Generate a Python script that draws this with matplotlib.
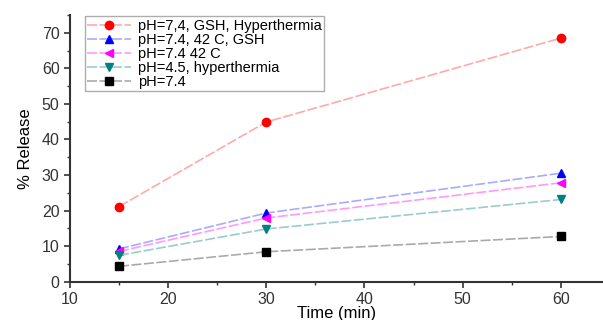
import matplotlib.pyplot as plt
import matplotlib

matplotlib.rcParams['font.family'] = ['Liberation Sans', 'DejaVu Sans']

# data
time_min = [15, 30, 60]
labels = ["pH=7,4, GSH, Hyperthermia", "pH=7.4, 42 C, GSH", "pH=7.4 42 C",
          "pH=4.5, hyperthermia", "pH=7.4"]
gsh_hyper = [21.1, 44.9, 68.5]
gsh_42c = [9.2, 19.3, 30.5]
only_42c = [8.5, 17.9, 27.8]
ph45_hyper = [7.4, 14.8, 23.1]
ph74 = [4.3, 8.4, 12.7]

series = [gsh_hyper, gsh_42c, only_42c, ph45_hyper, ph74]
marker_colors = ['#ff0000', '#0000ff', '#ff00ff', '#008080', '#000000']
line_colors = ['#ffaaaa', '#aaaaff', '#ff99ff', '#99cccc', '#aaaaaa']
markers = ['o', '^', '<', 'v', 's']

fig = plt.figure(figsize=(6.03, 3.2), dpi=100)
ax = fig.add_axes([0.116, 0.12, 0.884, 0.833])

for vals, lab, mc, lc, mk in zip(series, labels, marker_colors, line_colors, markers):
    ax.plot(time_min, vals, color=lc, linewidth=1.2, linestyle=(0, (6, 1.5)),
            marker=mk, markersize=6, markerfacecolor=mc, markeredgecolor=mc, label=lab)

ax.set_xlim(10, 64.3)
ax.set_ylim(0, 75)
ax.set_xticks([10, 20, 30, 40, 50, 60])
ax.set_yticks(range(0, 80, 10))
ax.set_xticks([15, 25, 35, 45, 55], minor=True)
ax.set_yticks(range(5, 80, 10), minor=True)
for s in ['top', 'right']:
    ax.spines[s].set_visible(False)
for s in ['left', 'bottom']:
    ax.spines[s].set_linewidth(1.5)
    ax.spines[s].set_color('#333333')
ax.tick_params(axis='both', which='major', direction='out', length=4, width=1.2,
               labelsize=11.5, colors='#333333')
ax.tick_params(axis='both', which='minor', direction='out', length=2.5, width=1.0,
               colors='#333333')

ax.set_xlabel("Time (min)", fontsize=12, labelpad=-1)
ax.set_ylabel("% Release", fontsize=12, labelpad=6)

leg = ax.legend(loc='upper left', bbox_to_anchor=(0.025, 1.0), fontsize=10.5,
                frameon=True, fancybox=False, edgecolor='#999999', handlelength=3.0,
                borderpad=0.15, labelspacing=0.0, handletextpad=0.5, borderaxespad=0.1)
leg.get_frame().set_linewidth(1.0)

plt.savefig("out.png", dpi=100)
